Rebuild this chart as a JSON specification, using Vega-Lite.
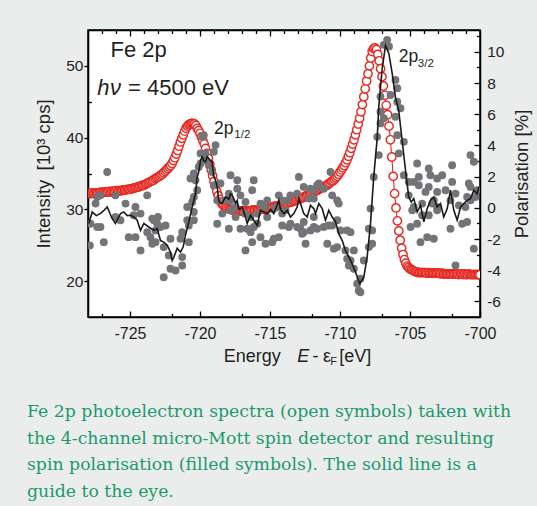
{
"$schema": "https://vega.github.io/schema/vega-lite/v6.json",
"width": 392, "height": 287,
"autosize": {"type": "none"},
"padding": {"left": 88, "top": 30, "right": 57, "bottom": 189},
"background": "#ebeded",
"config": {
 "view": {"stroke": "#000", "strokeWidth": 1.5, "fill": "white"},
 "axis": {"labelFont": "Liberation Sans", "titleFont": "Liberation Sans", "labelColor": "#231f20", "titleColor": "#231f20", "domainColor": "#000", "tickColor": "#000", "grid": false, "labelFlush": false, "labelOverlap": false, "titleFontWeight": "normal", "labelFontSize": 15.5, "titleFontSize": 18.5, "domainWidth": 1.5, "tickWidth": 1.3}
},
"title": {"text": ["Fe 2p photoelectron spectra (open symbols) taken with", "the 4-channel micro-Mott spin detector and resulting", "spin polarisation (filled symbols). The solid line is a", "guide to the eye."], "orient": "bottom", "anchor": "start", "frame": "group", "dx": -61, "offset": 36, "font": "DejaVu Serif", "fontSize": 17.3, "fontWeight": "normal", "color": "#1b9a6c", "lineHeight": 26.6},
"datasets": {
 "spec": [
{"E":-728.0,"I":32.2},{"E":-727.9,"I":32.2},{"E":-727.8,"I":32.2},{"E":-727.7,"I":32.3},{"E":-727.6,"I":32.2},{"E":-727.5,"I":32.3},{"E":-727.4,"I":32.3},{"E":-727.3,"I":32.3},{"E":-727.2,"I":32.3},{"E":-727.1,"I":32.4},
{"E":-727.0,"I":32.3},{"E":-726.9,"I":32.4},{"E":-726.8,"I":32.4},{"E":-726.7,"I":32.4},{"E":-726.6,"I":32.4},{"E":-726.5,"I":32.5},{"E":-726.4,"I":32.4},{"E":-726.3,"I":32.5},{"E":-726.2,"I":32.5},{"E":-726.1,"I":32.5},
{"E":-726.0,"I":32.6},{"E":-725.9,"I":32.5},{"E":-725.8,"I":32.6},{"E":-725.7,"I":32.6},{"E":-725.6,"I":32.6},{"E":-725.5,"I":32.7},{"E":-725.4,"I":32.7},{"E":-725.3,"I":32.7},{"E":-725.2,"I":32.8},{"E":-725.1,"I":32.8},
{"E":-725.0,"I":32.8},{"E":-724.9,"I":32.9},{"E":-724.8,"I":32.9},{"E":-724.7,"I":33.0},{"E":-724.6,"I":33.0},{"E":-724.5,"I":33.1},{"E":-724.4,"I":33.1},{"E":-724.3,"I":33.2},{"E":-724.2,"I":33.3},{"E":-724.1,"I":33.3},
{"E":-724.0,"I":33.4},{"E":-723.9,"I":33.5},{"E":-723.8,"I":33.6},{"E":-723.7,"I":33.7},{"E":-723.6,"I":33.8},{"E":-723.5,"I":33.9},{"E":-723.4,"I":34.0},{"E":-723.3,"I":34.1},{"E":-723.2,"I":34.3},{"E":-723.1,"I":34.4},
{"E":-723.0,"I":34.5},{"E":-722.9,"I":34.6},{"E":-722.8,"I":34.8},{"E":-722.7,"I":34.9},{"E":-722.6,"I":35.1},{"E":-722.5,"I":35.3},{"E":-722.4,"I":35.5},{"E":-722.3,"I":35.7},{"E":-722.2,"I":35.9},{"E":-722.1,"I":36.1},
{"E":-722.0,"I":36.4},{"E":-721.9,"I":36.8},{"E":-721.8,"I":37.2},{"E":-721.7,"I":37.7},{"E":-721.6,"I":38.2},{"E":-721.5,"I":38.8},{"E":-721.4,"I":39.4},{"E":-721.3,"I":39.9},{"E":-721.2,"I":40.4},{"E":-721.1,"I":40.9},
{"E":-721.0,"I":41.3},{"E":-720.9,"I":41.6},{"E":-720.8,"I":41.8},{"E":-720.7,"I":41.9},{"E":-720.6,"I":42.0},{"E":-720.5,"I":42.0},{"E":-720.4,"I":41.9},{"E":-720.3,"I":41.7},{"E":-720.2,"I":41.3},{"E":-720.1,"I":41.0},
{"E":-720.0,"I":40.6},{"E":-719.9,"I":40.1},{"E":-719.8,"I":39.6},{"E":-719.7,"I":39.1},{"E":-719.6,"I":38.5},{"E":-719.5,"I":37.8},{"E":-719.4,"I":37.1},{"E":-719.3,"I":36.3},{"E":-719.2,"I":35.5},{"E":-719.1,"I":34.7},
{"E":-719.0,"I":33.9},{"E":-718.9,"I":33.2},{"E":-718.8,"I":32.5},{"E":-718.7,"I":31.9},{"E":-718.6,"I":31.4},{"E":-718.5,"I":31.0},{"E":-718.4,"I":30.7},{"E":-718.3,"I":30.5},{"E":-718.2,"I":30.3},{"E":-718.1,"I":30.2},
{"E":-718.0,"I":30.1},{"E":-717.9,"I":30.0},{"E":-717.8,"I":30.0},{"E":-717.7,"I":29.9},{"E":-717.6,"I":29.9},{"E":-717.5,"I":29.9},{"E":-717.4,"I":29.8},{"E":-717.3,"I":29.8},{"E":-717.2,"I":29.8},{"E":-717.1,"I":29.8},
{"E":-717.0,"I":29.8},{"E":-716.9,"I":29.7},{"E":-716.8,"I":29.8},{"E":-716.7,"I":29.8},{"E":-716.6,"I":29.8},{"E":-716.5,"I":29.8},{"E":-716.4,"I":29.8},{"E":-716.3,"I":29.9},{"E":-716.2,"I":29.9},{"E":-716.1,"I":29.9},
{"E":-716.0,"I":29.9},{"E":-715.9,"I":29.9},{"E":-715.8,"I":30.0},{"E":-715.7,"I":30.0},{"E":-715.6,"I":30.0},{"E":-715.5,"I":30.0},{"E":-715.4,"I":30.1},{"E":-715.3,"I":30.1},{"E":-715.2,"I":30.1},{"E":-715.1,"I":30.2},
{"E":-715.0,"I":30.2},{"E":-714.9,"I":30.3},{"E":-714.8,"I":30.3},{"E":-714.7,"I":30.4},{"E":-714.6,"I":30.4},{"E":-714.5,"I":30.5},{"E":-714.4,"I":30.5},{"E":-714.3,"I":30.6},{"E":-714.2,"I":30.6},{"E":-714.1,"I":30.7},
{"E":-714.0,"I":30.7},{"E":-713.9,"I":30.8},{"E":-713.8,"I":30.8},{"E":-713.7,"I":30.9},{"E":-713.6,"I":31.0},{"E":-713.5,"I":31.0},{"E":-713.4,"I":31.1},{"E":-713.3,"I":31.2},{"E":-713.2,"I":31.2},{"E":-713.1,"I":31.3},
{"E":-713.0,"I":31.4},{"E":-712.9,"I":31.5},{"E":-712.8,"I":31.5},{"E":-712.7,"I":31.6},{"E":-712.6,"I":31.7},{"E":-712.5,"I":31.8},{"E":-712.4,"I":31.9},{"E":-712.3,"I":32.0},{"E":-712.2,"I":32.1},{"E":-712.1,"I":32.2},
{"E":-712.0,"I":32.3},{"E":-711.9,"I":32.4},{"E":-711.8,"I":32.5},{"E":-711.7,"I":32.6},{"E":-711.6,"I":32.7},{"E":-711.5,"I":32.8},{"E":-711.4,"I":32.9},{"E":-711.3,"I":33.0},{"E":-711.2,"I":33.1},{"E":-711.1,"I":33.2},
{"E":-711.0,"I":33.3},{"E":-710.9,"I":33.4},{"E":-710.8,"I":33.6},{"E":-710.7,"I":33.7},{"E":-710.6,"I":33.9},{"E":-710.5,"I":34.0},{"E":-710.4,"I":34.2},{"E":-710.3,"I":34.4},{"E":-710.2,"I":34.6},{"E":-710.1,"I":34.9},
{"E":-710.0,"I":35.2},{"E":-709.9,"I":35.5},{"E":-709.8,"I":35.8},{"E":-709.7,"I":36.1},{"E":-709.6,"I":36.5},{"E":-709.5,"I":36.9},{"E":-709.4,"I":37.4},{"E":-709.3,"I":37.9},{"E":-709.2,"I":38.5},{"E":-709.1,"I":39.1},
{"E":-709.0,"I":39.7},{"E":-708.9,"I":40.4},{"E":-708.8,"I":41.1},{"E":-708.7,"I":41.9},{"E":-708.6,"I":42.7},{"E":-708.5,"I":43.6},{"E":-708.4,"I":44.6},{"E":-708.3,"I":45.7},{"E":-708.2,"I":46.8},{"E":-708.1,"I":47.9},
{"E":-708.0,"I":48.9},{"E":-707.9,"I":50.0},{"E":-707.8,"I":51.1},{"E":-707.7,"I":52.0},{"E":-707.6,"I":52.4},{"E":-707.5,"I":52.5},{"E":-707.4,"I":52.3},{"E":-707.3,"I":51.6},{"E":-707.2,"I":50.7},{"E":-707.1,"I":49.6},
{"E":-707.0,"I":48.5},{"E":-706.9,"I":47.2},{"E":-706.8,"I":45.9},{"E":-706.7,"I":44.5},{"E":-706.6,"I":43.2},{"E":-706.5,"I":41.6},{"E":-706.4,"I":39.7},{"E":-706.3,"I":37.3},{"E":-706.2,"I":34.6},{"E":-706.1,"I":32.2},
{"E":-706.0,"I":30.2},{"E":-705.9,"I":28.4},{"E":-705.8,"I":27.0},{"E":-705.7,"I":25.7},{"E":-705.6,"I":24.6},{"E":-705.5,"I":23.7},{"E":-705.4,"I":23.0},{"E":-705.3,"I":22.5},{"E":-705.2,"I":22.1},{"E":-705.1,"I":21.9},
{"E":-705.0,"I":21.7},{"E":-704.9,"I":21.6},{"E":-704.8,"I":21.5},{"E":-704.7,"I":21.4},{"E":-704.6,"I":21.3},{"E":-704.5,"I":21.3},{"E":-704.4,"I":21.2},{"E":-704.3,"I":21.2},{"E":-704.2,"I":21.2},{"E":-704.1,"I":21.2},
{"E":-704.0,"I":21.2},{"E":-703.9,"I":21.2},{"E":-703.8,"I":21.1},{"E":-703.7,"I":21.2},{"E":-703.6,"I":21.1},{"E":-703.5,"I":21.1},{"E":-703.4,"I":21.1},{"E":-703.3,"I":21.1},{"E":-703.2,"I":21.1},{"E":-703.1,"I":21.1},
{"E":-703.0,"I":21.1},{"E":-702.9,"I":21.1},{"E":-702.8,"I":21.0},{"E":-702.7,"I":21.1},{"E":-702.6,"I":21.0},{"E":-702.5,"I":21.0},{"E":-702.4,"I":21.0},{"E":-702.3,"I":21.0},{"E":-702.2,"I":21.0},{"E":-702.1,"I":21.0},
{"E":-702.0,"I":21.0},{"E":-701.9,"I":21.0},{"E":-701.8,"I":21.0},{"E":-701.7,"I":21.0},{"E":-701.6,"I":21.0},{"E":-701.5,"I":20.9},{"E":-701.4,"I":21.0},{"E":-701.3,"I":21.0},{"E":-701.2,"I":20.9},{"E":-701.1,"I":21.0},
{"E":-701.0,"I":20.9},{"E":-700.9,"I":20.9},{"E":-700.8,"I":21.0},{"E":-700.7,"I":20.9},{"E":-700.6,"I":20.9},{"E":-700.5,"I":20.9},{"E":-700.4,"I":20.9},{"E":-700.3,"I":20.9},{"E":-700.2,"I":20.9},{"E":-700.1,"I":20.9},
{"E":-700.0,"I":20.9}
 ],
 "pol": [
{"E":-727.87,"P":-2.41},{"E":-727.82,"P":-1.02},{"E":-727.46,"P":0.27},{"E":-727.34,"P":0.69},{"E":-727.34,"P":-1.23},{"E":-727.11,"P":0.8},{"E":-727.11,"P":-1.23},{"E":-726.87,"P":-2.2},{"E":-726.63,"P":2.3},{"E":-726.04,"P":0.8},
{"E":-726.04,"P":-0.59},{"E":-725.68,"P":-0.8},{"E":-725.32,"P":0.27},{"E":-725.09,"P":-1.88},{"E":-724.61,"P":0.05},{"E":-724.73,"P":-0.48},{"E":-724.61,"P":-1.88},{"E":-724.25,"P":-0.37},{"E":-724.25,"P":-2.73},{"E":-723.77,"P":0.8},
{"E":-723.77,"P":-1.56},{"E":-723.41,"P":-2.3},{"E":-723.18,"P":-2.2},{"E":-723.3,"P":-0.8},{"E":-723.06,"P":-1.02},{"E":-723.0,"P":-0.59},{"E":-722.82,"P":-1.23},{"E":-722.46,"P":-1.13},{"E":-722.59,"P":-2.52},{"E":-722.23,"P":-3.05},
{"E":-722.59,"P":-4.45},{"E":-722.11,"P":-3.91},{"E":-721.75,"P":-4.02},{"E":-721.27,"P":-3.7},{"E":-721.27,"P":-3.16},{"E":-721.39,"P":-1.98},{"E":-720.8,"P":-2.2},{"E":-720.91,"P":-0.8},{"E":-720.91,"P":0.05},{"E":-720.44,"P":-0.8},
{"E":-720.56,"P":0.37},{"E":-720.44,"P":-0.27},{"E":-720.32,"P":1.77},{"E":-720.2,"P":1.13},{"E":-720.68,"P":1.88},{"E":-720.44,"P":2.2},{"E":-720.09,"P":2.62},{"E":-719.96,"P":2.84},{"E":-719.96,"P":3.49},{"E":-719.84,"P":4.55},
{"E":-719.73,"P":4.66},{"E":-719.61,"P":3.49},{"E":-719.61,"P":3.05},{"E":-719.37,"P":2.73},{"E":-719.13,"P":2.3},{"E":-719.01,"P":3.59},{"E":-718.89,"P":4.02},{"E":-719.01,"P":1.45},{"E":-718.54,"P":1.56},{"E":-718.77,"P":0.48},
{"E":-718.77,"P":-1.02},{"E":-718.18,"P":0.48},{"E":-718.41,"P":-0.37},{"E":-717.82,"P":2.09},{"E":-717.34,"P":1.77},{"E":-717.34,"P":1.23},{"E":-717.46,"P":0.05},{"E":-717.82,"P":-0.16},{"E":-717.46,"P":-0.59},{"E":-717.94,"P":-1.34},
{"E":-716.75,"P":0.37},{"E":-716.63,"P":-1.34},{"E":-716.75,"P":-2.73},{"E":-716.27,"P":1.13},{"E":-716.39,"P":-1.56},{"E":-716.27,"P":-2.2},{"E":-715.68,"P":-1.88},{"E":-715.91,"P":-0.37},{"E":-716.8,"P":-0.37},{"E":-716.39,"P":-0.59},
{"E":-715.32,"P":-2.3},{"E":-715.2,"P":0.48},{"E":-715.2,"P":-0.59},{"E":-715.68,"P":0.27},{"E":-715.44,"P":0.05},{"E":-714.73,"P":-0.05},{"E":-714.84,"P":-2.2},{"E":-714.73,"P":-1.98},{"E":-714.37,"P":0.8},{"E":-714.13,"P":0.48},
{"E":-714.13,"P":-0.37},{"E":-714.13,"P":-1.13},{"E":-714.37,"P":-1.88},{"E":-713.66,"P":-1.23},{"E":-713.54,"P":-1.02},{"E":-713.89,"P":-0.16},{"E":-713.06,"P":0.91},{"E":-712.94,"P":1.98},{"E":-713.06,"P":-1.23},{"E":-712.82,"P":-1.34},
{"E":-712.59,"P":1.34},{"E":-712.59,"P":-1.56},{"E":-712.46,"P":-2.3},{"E":-712.11,"P":1.23},{"E":-712.11,"P":-1.45},{"E":-711.87,"P":1.13},{"E":-711.87,"P":0.59},{"E":-711.87,"P":-1.23},{"E":-711.63,"P":-1.34},{"E":-711.51,"P":1.56},
{"E":-711.16,"P":1.23},{"E":-711.16,"P":-1.23},{"E":-710.91,"P":-2.3},{"E":-710.8,"P":-1.13},{"E":-710.68,"P":2.3},{"E":-710.56,"P":0.8},{"E":-710.2,"P":0.48},{"E":-710.2,"P":-0.8},{"E":-710.44,"P":-2.62},{"E":-710.09,"P":0.27},
{"E":-709.96,"P":-1.45},{"E":-710.2,"P":-2.52},{"E":-709.61,"P":-2.73},{"E":-709.49,"P":-1.45},{"E":-709.49,"P":-3.27},{"E":-709.37,"P":-3.7},{"E":-709.25,"P":-1.56},{"E":-709.25,"P":-3.38},{"E":-709.01,"P":-2.73},{"E":-709.01,"P":-3.91},
{"E":-708.77,"P":-4.87},{"E":-708.66,"P":-5.31},{"E":-708.54,"P":-5.41},{"E":-708.54,"P":-4.55},{"E":-708.3,"P":-3.38},{"E":-707.94,"P":-2.52},{"E":-707.94,"P":-1.34},{"E":-707.7,"P":-1.45},{"E":-707.7,"P":-2.3},{"E":-707.82,"P":-0.05},
{"E":-707.59,"P":1.98},{"E":-707.34,"P":4.55},{"E":-707.23,"P":3.38},{"E":-707.11,"P":5.41},{"E":-707.11,"P":7.13},{"E":-707.11,"P":6.16},{"E":-706.87,"P":5.74},{"E":-706.87,"P":10.45},{"E":-706.63,"P":10.77},{"E":-706.5,"P":10.34},
{"E":-706.04,"P":8.2},{"E":-705.91,"P":7.67},{"E":-706.39,"P":7.23},{"E":-705.91,"P":6.8},{"E":-705.68,"P":6.38},{"E":-706.04,"P":5.84},{"E":-705.91,"P":4.66},{"E":-705.44,"P":4.23},{"E":-705.8,"P":3.49},{"E":-705.44,"P":2.09},
{"E":-705.09,"P":1.66},{"E":-705.09,"P":0.8},{"E":-704.84,"P":-0.16},{"E":-704.96,"P":-1.23},{"E":-704.73,"P":1.66},{"E":-704.49,"P":2.84},{"E":-704.37,"P":1.98},{"E":-704.37,"P":1.45},{"E":-704.49,"P":-1.02},{"E":-704.25,"P":-2.2},
{"E":-704.13,"P":0.27},{"E":-703.89,"P":1.02},{"E":-703.66,"P":2.52},{"E":-703.66,"P":1.34},{"E":-703.66,"P":-0.48},{"E":-703.77,"P":-1.88},{"E":-703.54,"P":2.09},{"E":-703.3,"P":0.48},{"E":-703.06,"P":0.05},{"E":-703.3,"P":-1.98},
{"E":-703.06,"P":1.88},{"E":-702.7,"P":2.09},{"E":-702.46,"P":1.13},{"E":-702.11,"P":0.48},{"E":-702.11,"P":-1.34},{"E":-701.99,"P":2.73},{"E":-701.99,"P":1.66},{"E":-701.75,"P":-3.7},{"E":-701.51,"P":0.16},{"E":-701.27,"P":-1.02},
{"E":-701.04,"P":0.05},{"E":-700.92,"P":-0.91},{"E":-700.8,"P":1.56},{"E":-700.68,"P":3.38},{"E":-700.44,"P":2.95},{"E":-700.68,"P":1.34},{"E":-700.68,"P":0.48},{"E":-700.32,"P":0.69},{"E":-700.44,"P":-2.62},{"E":-700.2,"P":1.13},
{"E":-701.75,"P":0.91},{"E":-700.92,"P":0.69},{"E":-703.06,"P":1.02},{"E":-713.54,"P":0.8},{"E":-711.63,"P":1.45},{"E":-712.59,"P":-0.91},{"E":-712.7,"P":-1.66},{"E":-710.56,"P":-1.13},{"E":-704.73,"P":0.05},{"E":-703.41,"P":0.27},
{"E":-704.13,"P":-0.48},{"E":-703.06,"P":-0.16},{"E":-711.87,"P":-0.59},{"E":-712.23,"P":0.59},{"E":-713.77,"P":0.48},{"E":-716.16,"P":-1.23},{"E":-720.44,"P":0.69},{"E":-720.8,"P":-1.13},{"E":-721.27,"P":-1.56},{"E":-723.18,"P":-1.45},
{"E":-722.11,"P":-1.98},{"E":-723.54,"P":-1.88},{"E":-723.41,"P":-0.69},{"E":-717.11,"P":-1.34},{"E":-714.49,"P":0.05},{"E":-716.16,"P":1.77},{"E":-717.82,"P":0.48},{"E":-717.11,"P":0.8},{"E":-715.91,"P":-1.02},{"E":-717.94,"P":0.91}
 ],
 "fit": [
{"E":-727.94,"P":-1.0},{"E":-727.7,"P":-0.27},{"E":-727.4,"P":-0.5},{"E":-727.11,"P":-0.36},{"E":-726.9,"P":-0.2},{"E":-726.63,"P":0.05},{"E":-726.27,"P":-0.7},{"E":-726.04,"P":-1.0},{"E":-725.68,"P":-0.37},{"E":-725.44,"P":-0.27},
{"E":-725.2,"P":-0.5},{"E":-724.96,"P":-0.48},{"E":-724.73,"P":-0.59},{"E":-724.49,"P":-0.8},{"E":-724.25,"P":-1.45},{"E":-724.01,"P":-1.0},{"E":-723.66,"P":-1.23},{"E":-723.3,"P":-1.45},{"E":-723.06,"P":-1.34},{"E":-722.82,"P":-2.1},
{"E":-722.59,"P":-2.2},{"E":-722.34,"P":-2.4},{"E":-722.11,"P":-2.84},{"E":-721.99,"P":-3.38},{"E":-721.87,"P":-3.16},{"E":-721.63,"P":-2.6},{"E":-721.39,"P":-2.84},{"E":-721.2,"P":-2.5},{"E":-721.04,"P":-1.77},{"E":-720.8,"P":-0.9},
{"E":-720.56,"P":0.05},{"E":-720.32,"P":0.9},{"E":-720.2,"P":1.98},{"E":-720.09,"P":2.3},{"E":-719.96,"P":3.05},{"E":-719.84,"P":3.27},{"E":-719.73,"P":3.0},{"E":-719.61,"P":2.95},{"E":-719.49,"P":3.27},{"E":-719.37,"P":3.16},
{"E":-719.25,"P":3.0},{"E":-719.14,"P":2.95},{"E":-719.01,"P":1.98},{"E":-718.89,"P":1.77},{"E":-718.77,"P":1.34},{"E":-718.66,"P":0.45},{"E":-718.54,"P":0.3},{"E":-718.41,"P":0.3},{"E":-718.18,"P":0.7},{"E":-717.94,"P":0.55},
{"E":-717.82,"P":0.9},{"E":-717.7,"P":0.8},{"E":-717.59,"P":0.59},{"E":-717.46,"P":0.3},{"E":-717.34,"P":0.48},{"E":-717.23,"P":-0.1},{"E":-717.11,"P":-0.05},{"E":-716.99,"P":0.05},{"E":-716.87,"P":-0.27},{"E":-716.75,"P":-0.59},
{"E":-716.63,"P":-1.0},{"E":-716.39,"P":-0.48},{"E":-716.16,"P":-0.8},{"E":-715.91,"P":-1.13},{"E":-715.68,"P":-0.16},{"E":-715.44,"P":-0.27},{"E":-715.2,"P":-0.4},{"E":-714.96,"P":-0.1},{"E":-714.73,"P":-0.37},{"E":-714.49,"P":0.16},
{"E":-714.37,"P":0.48},{"E":-714.25,"P":-0.1},{"E":-714.01,"P":-0.37},{"E":-713.77,"P":-0.16},{"E":-713.54,"P":-0.59},{"E":-713.3,"P":-0.37},{"E":-713.06,"P":0.05},{"E":-712.94,"P":0.59},{"E":-712.82,"P":0.27},{"E":-712.59,"P":-0.37},
{"E":-712.34,"P":-0.59},{"E":-712.11,"P":0.16},{"E":-711.87,"P":-0.05},{"E":-711.75,"P":-0.37},{"E":-711.51,"P":0.27},{"E":-711.27,"P":-0.05},{"E":-711.04,"P":-0.8},{"E":-710.8,"P":-0.16},{"E":-710.56,"P":-0.59},{"E":-710.32,"P":-0.9},
{"E":-710.09,"P":-1.66},{"E":-709.84,"P":-2.1},{"E":-709.61,"P":-2.73},{"E":-709.37,"P":-3.16},{"E":-709.13,"P":-3.59},{"E":-708.89,"P":-4.13},{"E":-708.59,"P":-4.87},{"E":-708.3,"P":-4.45},{"E":-708.06,"P":-3.16},{"E":-707.82,"P":-1.0},
{"E":-707.59,"P":2.0},{"E":-707.34,"P":4.5},{"E":-707.23,"P":6.5},{"E":-706.99,"P":8.9},{"E":-706.75,"P":10.4},{"E":-706.51,"P":9.9},{"E":-706.27,"P":8.6},{"E":-706.04,"P":7.1},{"E":-705.8,"P":6.2},{"E":-705.56,"P":4.3},
{"E":-705.32,"P":2.4},{"E":-705.09,"P":0.7},{"E":-704.91,"P":0.37},{"E":-704.73,"P":0.59},{"E":-704.49,"P":-0.27},{"E":-704.25,"P":0.16},{"E":-704.01,"P":-0.9},{"E":-703.77,"P":-0.05},{"E":-703.54,"P":0.48},{"E":-703.3,"P":0.7},
{"E":-703.06,"P":0.05},{"E":-702.82,"P":0.27},{"E":-702.59,"P":-0.59},{"E":-702.34,"P":-0.05},{"E":-702.11,"P":1.13},{"E":-701.87,"P":-0.16},{"E":-701.63,"P":-0.8},{"E":-701.39,"P":0.05},{"E":-701.16,"P":0.27},{"E":-700.91,"P":0.48},
{"E":-700.68,"P":0.59},{"E":-700.44,"P":1.13},{"E":-700.2,"P":0.9},{"E":-700.09,"P":1.34}
 ],
 "big": [{"E":-726.39,"I":51.3,"t":"Fe 2p"},{"E":-725.14,"I":45.94,"t":"= 4500 eV"}],
 "bigi": [{"E":-727.34,"I":45.94,"t":"h"},{"E":-726.42,"I":45.94,"t":"ν"}],
 "peak": [{"E":-719.0,"I":40.5,"t":"2p"},{"E":-705.8,"I":50.58,"t":"2p"}],
 "peaksub": [{"E":-717.55,"I":40.0,"t":"1/2"},{"E":-704.44,"I":49.85,"t":"3/2"}],
 "xt": [{"E":-718.3,"I":8.77,"t":"Energy"},{"E":-711.96,"I":8.77,"t":"-"},{"E":-711.22,"I":8.77,"t":"ε"},{"E":-710.05,"I":8.77,"t":"[eV]"}],
 "xti": [{"E":-713.06,"I":8.77,"t":"E"}],
 "xts": [{"E":-710.7,"I":8.31,"t":"F"}]
},
"layer": [
 {
  "layer": [
   {"data": {"name": "spec"}, "mark": {"type": "line", "color": "#e62820", "strokeWidth": 1.1, "clip": true},
    "encoding": {
     "x": {"field": "E", "type": "quantitative", "scale": {"domain": [-728, -700], "nice": false, "zero": false},
       "axis": {"orient": "bottom", "title": null, "values": [-725,-720,-715,-710,-705,-700], "labelExpr": "'' + datum.value", "labelOverlap": false, "labelFlush": false,
         "tickSize": -6, "labelPadding": 14.3, "labelFontSize": 16}},
     "y": {"field": "I", "type": "quantitative", "scale": {"domain": [15, 55], "nice": false, "zero": false},
       "axis": {"orient": "left", "title": "Intensity\u2002[10³ cps]", "values": [20,30,40,50], "labelExpr": "'' + datum.value", "labelOverlap": false, "labelFlush": false,
         "tickSize": 4, "labelPadding": 1, "titlePadding": 12.5}}
    }},
   {"data": {"name": "spec"}, "mark": {"type": "point", "shape": "circle", "filled": true, "fill": "white", "stroke": "#e62820", "strokeWidth": 1.4, "size": 70, "opacity": 1, "clip": true},
    "encoding": {"x": {"field": "E", "type": "quantitative"}, "y": {"field": "I", "type": "quantitative"}}}
  ]
 },
 {
  "data": {"name": "pol"}, "mark": {"type": "circle", "color": "#737477", "size": 62, "opacity": 1, "clip": true},
  "encoding": {
   "x": {"field": "E", "type": "quantitative",
     "axis": {"orient": "top", "title": null, "labels": false, "values": [-725,-720,-715,-710,-705], "tickSize": -6}},
   "y": {"field": "P", "type": "quantitative", "scale": {"domain": [-7, 11.4], "nice": false, "zero": false},
     "axis": {"orient": "right", "title": "Polarisation [%]", "titleAngle": 270, "titleBaseline": "top", "values": [-6,-4,-2,0,2,4,6,8,10],
       "labelExpr": "'' + datum.value", "labelOverlap": false, "labelFlush": false,
       "tickSize": -6, "labelPadding": 12.7, "titlePadding": 9}}
  }
 },
 {
  "layer": [
   {"data": {"name": "big"}, "mark": {"type": "text", "align": "left", "baseline": "alphabetic", "font": "Liberation Sans", "fontSize": 22, "color": "#231f20"},
    "encoding": {
     "x": {"field": "E", "type": "quantitative",
       "axis": {"orient": "bottom", "title": null, "labels": false, "domain": false, "values": [-727,-726,-724,-723,-722,-721,-719,-718,-717,-716,-714,-713,-712,-711,-709,-708,-707,-706,-704,-703,-702,-701], "tickSize": -3.5}},
     "y": {"field": "I", "type": "quantitative", "scale": {"domain": [15, 55], "nice": false, "zero": false},
       "axis": {"orient": "left", "title": null, "labels": false, "domain": false, "values": [25,35,45], "tickSize": -3.5}},
     "text": {"field": "t"}}},
   {"data": {"name": "bigi"}, "mark": {"type": "text", "align": "left", "baseline": "alphabetic", "font": "Liberation Sans", "fontStyle": "italic", "fontSize": 22, "color": "#231f20"},
    "encoding": {"x": {"field": "E", "type": "quantitative"}, "y": {"field": "I", "type": "quantitative"}, "text": {"field": "t"}}},
   {"data": {"name": "peak"}, "mark": {"type": "text", "align": "left", "baseline": "alphabetic", "font": "Liberation Sans", "fontSize": 17.5, "color": "#231f20"},
    "encoding": {"x": {"field": "E", "type": "quantitative"}, "y": {"field": "I", "type": "quantitative"}, "text": {"field": "t"}}},
   {"data": {"name": "peaksub"}, "mark": {"type": "text", "align": "left", "baseline": "alphabetic", "font": "Liberation Sans", "fontSize": 11.5, "color": "#231f20"},
    "encoding": {"x": {"field": "E", "type": "quantitative"}, "y": {"field": "I", "type": "quantitative"}, "text": {"field": "t"}}},
   {"data": {"name": "xt"}, "mark": {"type": "text", "align": "left", "baseline": "alphabetic", "font": "Liberation Sans", "fontSize": 18, "color": "#231f20"},
    "encoding": {"x": {"field": "E", "type": "quantitative"}, "y": {"field": "I", "type": "quantitative"}, "text": {"field": "t"}}},
   {"data": {"name": "xti"}, "mark": {"type": "text", "align": "left", "baseline": "alphabetic", "font": "Liberation Sans", "fontStyle": "italic", "fontSize": 18, "color": "#231f20"},
    "encoding": {"x": {"field": "E", "type": "quantitative"}, "y": {"field": "I", "type": "quantitative"}, "text": {"field": "t"}}},
   {"data": {"name": "xts"}, "mark": {"type": "text", "align": "left", "baseline": "alphabetic", "font": "Liberation Sans", "fontSize": 11, "color": "#231f20"},
    "encoding": {"x": {"field": "E", "type": "quantitative"}, "y": {"field": "I", "type": "quantitative"}, "text": {"field": "t"}}}
  ]
 },
 {
  "data": {"name": "fit"}, "mark": {"type": "line", "color": "#1a1a1a", "strokeWidth": 1.6, "clip": true},
  "encoding": {
   "x": {"field": "E", "type": "quantitative",
     "axis": {"orient": "top", "title": null, "labels": false, "domain": false, "values": [-727,-726,-724,-723,-722,-721,-719,-718,-717,-716,-714,-713,-712,-711,-709,-708,-707,-706,-704,-703,-702,-701], "tickSize": -3.5}},
   "y": {"field": "P", "type": "quantitative", "scale": {"domain": [-7, 11.4], "nice": false, "zero": false},
     "axis": {"orient": "right", "title": null, "labels": false, "domain": false, "values": [-5,-3,-1,1,3,5,7,9,11], "tickSize": -3.5}}
  }
 }
],
"resolve": {"scale": {"y": "independent"}, "axis": {"x": "independent"}}
}
